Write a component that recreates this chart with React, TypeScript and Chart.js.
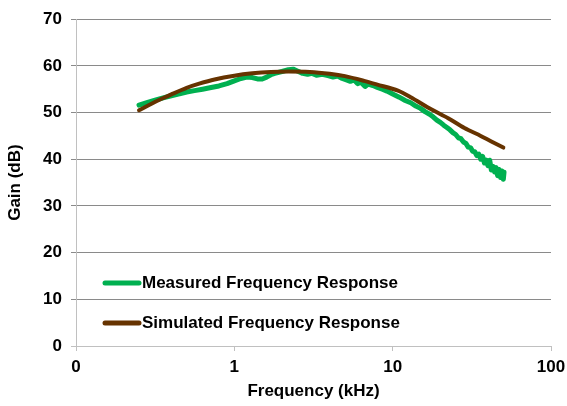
import React, { useEffect, useRef } from "react";
import { Chart, registerables } from "chart.js";

Chart.register(...registerables);

const measuredFreq = [
  0.25, 0.28, 0.32, 0.36, 0.4, 0.45, 0.5, 0.56, 0.63, 0.7, 0.8, 0.9, 1.0, 1.1, 1.2, 1.3, 1.4, 1.5, 1.6, 1.7,
  1.8, 2.0, 2.2, 2.35, 2.5, 2.7, 2.9, 3.1, 3.3, 3.6, 3.9, 4.2, 4.5, 4.8, 5.1, 5.4, 5.7, 6.0, 6.3, 6.7,
  7.0, 7.5, 8.0, 8.6, 9.2, 10, 11, 12, 13, 14, 15, 16, 17, 18, 19, 20, 21, 22, 23, 24,
  25, 26, 27, 28, 29, 30, 31, 32, 33, 34, 35, 36, 37, 38, 39, 40, 41, 42, 43, 44,
  45, 46, 47, 48, 49, 50, 50.5,
];
const measuredGain = [
  51.6, 52.1, 52.7, 53.2, 53.6, 54.0, 54.4, 54.7, 55.0, 55.3, 55.7, 56.2, 56.8, 57.3, 57.6, 57.5, 57.2, 57.2, 57.6, 58.1,
  58.4, 58.8, 59.2, 59.3, 58.9, 58.4, 58.2, 58.4, 58.0, 58.2, 57.9, 57.6, 57.8, 57.3, 57.0, 56.7, 57.0, 56.2, 56.5, 55.6,
  56.1, 55.8, 55.4, 55.0, 54.6, 54.0, 53.3, 52.6, 52.1, 51.4, 50.9, 50.2, 49.7, 49.1, 48.4, 47.9, 47.3, 46.8, 46.3, 45.7,
  45.3, 44.6, 44.4, 43.7, 43.4, 42.6, 42.5, 41.7, 41.6, 40.8, 41.1, 40.0, 40.6, 39.2, 39.8, 38.6, 39.8, 37.7, 38.5, 37.3,
  38.2, 36.5, 37.8, 36.1, 37.5, 35.7, 37.2,
];

const simulatedFreq = [
  0.25, 0.3, 0.35, 0.4, 0.5, 0.6, 0.75, 1.0, 1.3, 1.7, 2.2, 3, 4, 5, 6.6, 8, 10.8, 13, 17.5, 22.4, 28.4, 36, 42, 50,
];
const simulatedGain = [
  50.5, 51.9, 53.0, 53.9, 55.3, 56.2, 57.1, 57.9, 58.4, 58.7, 58.8, 58.7, 58.3, 57.8, 56.8, 56.0, 54.7, 53.3, 50.7, 48.8,
  46.7, 45.0, 43.8, 42.5,
];

const seriesLabels = ["Measured Frequency Response", "Simulated Frequency Response"];
const seriesColors = ["#00B050", "#663300"];

const xTickValues = [0.1, 1, 10, 100];
const xTickLabels = ["0", "1", "10", "100"];
const yMin = 0;
const yMax = 70;
const yStep = 10;

const xTitle = "Frequency (kHz)";
const yTitle = "Gain (dB)";

const FONT = "'Liberation Sans', Arial, sans-serif";

const insideLegend = {
  id: "insideLegend",
  afterDraw(chart: any) {
    const ctx = chart.ctx;
    const area = chart.chartArea;
    const rows = [area.bottom - 63, area.bottom - 23];
    ctx.save();
    ctx.font = `bold 17px ${FONT}`;
    ctx.textBaseline = "middle";
    ctx.textAlign = "left";
    chart.data.datasets.forEach((ds: any, i: number) => {
      const y = rows[i];
      const x0 = area.left + 29;
      ctx.strokeStyle = ds.borderColor;
      ctx.lineWidth = 5;
      ctx.lineCap = "round";
      ctx.beginPath();
      ctx.moveTo(x0, y);
      ctx.lineTo(x0 + 34, y);
      ctx.stroke();
      ctx.fillStyle = "#000000";
      ctx.fillText(ds.label, x0 + 37, y);
    });
    ctx.restore();
  },
};

export default function App() {
  const canvasRef = useRef<HTMLCanvasElement | null>(null);

  useEffect(() => {
    const canvas = canvasRef.current;
    if (!canvas) return;
    const chart = new Chart(canvas, {
      type: "line",
      data: {
        datasets: [
          {
            label: seriesLabels[0],
            data: measuredFreq.map((f, i) => ({ x: f, y: measuredGain[i] })),
            borderColor: seriesColors[0],
            backgroundColor: seriesColors[0],
            borderWidth: 5,
            pointRadius: 0,
            tension: 0,
            order: 2,
            borderJoinStyle: "round",
            borderCapStyle: "round",
          },
          {
            label: seriesLabels[1],
            data: simulatedFreq.map((f, i) => ({ x: f, y: simulatedGain[i] })),
            borderColor: seriesColors[1],
            backgroundColor: seriesColors[1],
            borderWidth: 4,
            pointRadius: 0,
            tension: 0.3,
            order: 1,
            borderJoinStyle: "round",
            borderCapStyle: "round",
          },
        ],
      },
      options: {
        animation: false,
        responsive: true,
        maintainAspectRatio: false,
        layout: { padding: { top: 14, right: 16, left: 0, bottom: 0 } },
        plugins: {
          legend: { display: false },
          tooltip: { enabled: false },
        },
        scales: {
          x: {
            type: "logarithmic",
            min: 0.1,
            max: 100,
            afterBuildTicks: (scale: any) => {
              scale.ticks = xTickValues.map((v) => ({ value: v }));
            },
            afterFit: (scale: any) => {
              scale.height = 60;
              scale.paddingRight = 0;
            },
            ticks: {
              autoSkip: false,
              maxRotation: 0,
              padding: 6,
              color: "#000000",
              font: { family: FONT, size: 17, weight: "bold" },
              callback: (_v: any, index: number) => xTickLabels[index],
            },
            grid: {
              drawOnChartArea: false,
              drawTicks: true,
              tickLength: 5,
              color: "#c0c0c0",
            },
            border: { color: "#c0c0c0", width: 1 },
            title: {
              display: true,
              text: xTitle,
              color: "#000000",
              font: { family: FONT, size: 17, weight: "bold" },
              padding: { top: 0, bottom: 4 },
            },
          },
          y: {
            min: yMin,
            max: yMax,
            afterFit: (scale: any) => {
              scale.width = 76;
            },
            ticks: {
              stepSize: yStep,
              padding: 9,
              color: "#000000",
              font: { family: FONT, size: 17, weight: "bold" },
            },
            grid: {
              color: (c: any) => (c.tick && c.tick.value === 0 ? "#c0c0c0" : "#8a8a8a"),
              tickLength: 5,
              lineWidth: 1,
            },
            border: { color: "#c0c0c0", width: 1 },
            title: {
              display: true,
              text: yTitle,
              color: "#000000",
              font: { family: FONT, size: 17, weight: "bold" },
              padding: { top: 5, bottom: 0 },
            },
          },
        },
      },
      plugins: [insideLegend],
    });
    return () => chart.destroy();
  }, []);

  return (
    <div style={{ position: "fixed", left: 0, top: 0, width: 567, height: 406, background: "#ffffff" }}>
      <canvas ref={canvasRef} />
    </div>
  );
}
